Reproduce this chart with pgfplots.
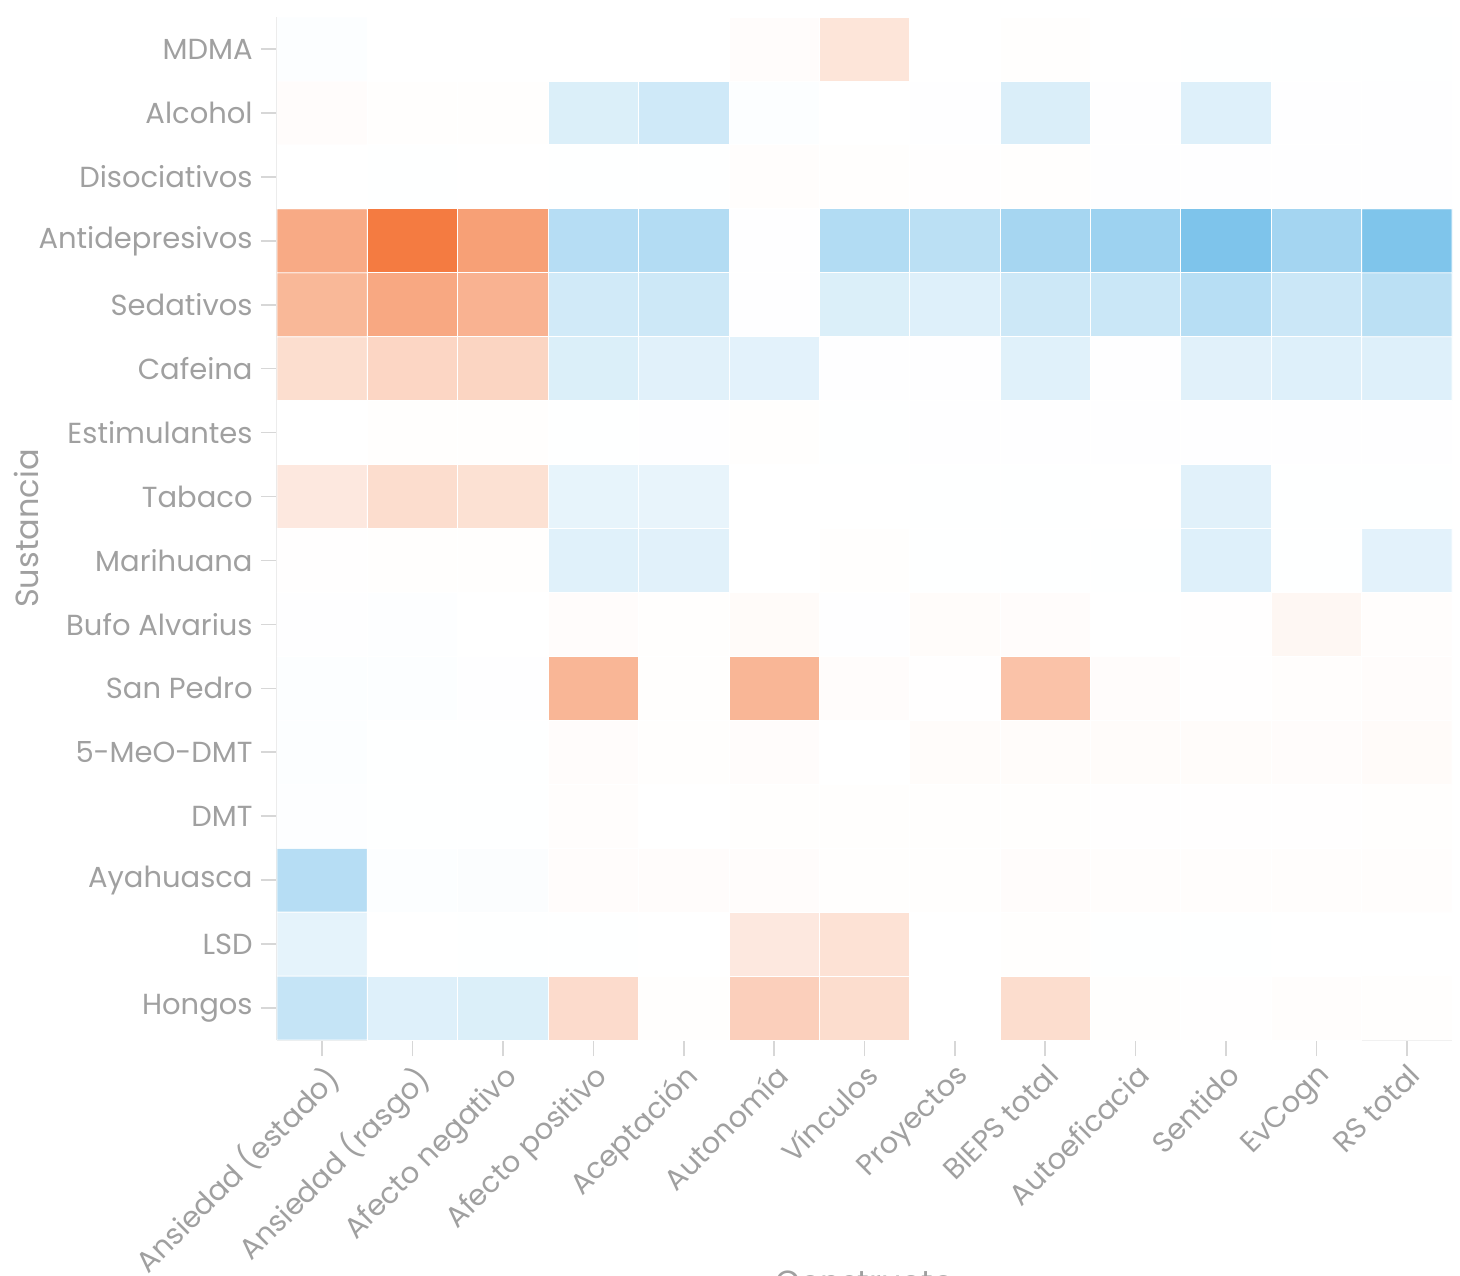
\documentclass[border=0pt]{standalone}
\usepackage{pgfplots}
\pgfplotsset{compat=1.18}
\usepackage{fontspec}
\setmainfont{Poppins}
\definecolor{txt}{RGB}{160,160,160}
\definecolor{axl}{RGB}{232,232,232}
\definecolor{tck}{RGB}{215,215,215}
\begin{document}
\begin{tikzpicture}
\begin{axis}[
  at={(0,0)}, anchor=south west,
  scale only axis, width=587.5pt, height=511.5pt,
  xmin=-0.5, xmax=12.5, ymin=-0.5, ymax=15.5,
  axis lines*=left,
  axis line style={axl, line width=0.9pt},
  tick align=outside,
  major tick length=8pt,
  tick style={tck, line width=0.8pt},
  xtick={0,...,12}, ytick={0,...,15},
  xticklabels={Ansiedad (estado),Ansiedad (rasgo),Afecto negativo,Afecto positivo,Aceptación,Autonomía,Vínculos,Proyectos,BIEPS total,Autoeficacia,Sentido,EvCogn,RS total},
  yticklabels={Hongos,LSD,Ayahuasca,DMT,5-MeO-DMT,San Pedro,Bufo Alvarius,Marihuana,Tabaco,Estimulantes,Cafeina,Sedativos,Antidepresivos,Disociativos,Alcohol,MDMA},
  ticklabel style={font=\fontsize{14.5pt}{16pt}\selectfont, text=txt},
  xticklabel style={rotate=45, anchor=north east, inner sep=2pt},
  yticklabel style={inner sep=4pt},
  xlabel={Constructo}, ylabel={Sustancia},
  label style={font=\fontsize{16pt}{18pt}\selectfont, text=txt},
  ylabel style={at={(axis description cs:-0.213,0.5)}, anchor=center},
  xlabel style={at={(axis description cs:0.5,0)}, anchor=north, yshift=-112pt},
  colormap={div}{rgb255=(244,123,65) rgb255=(255,255,255) rgb255=(126,196,235)},
  point meta min=-1, point meta max=1,
]
\addplot[matrix plot*, mesh/cols=13, mesh/rows=16, point meta=explicit, draw=white, line width=0.4pt]
table[meta=c] {
x y c
0 0 0.45
1 0 0.26
2 0 0.28
3 0 -0.27
4 0 -0.01
5 0 -0.36
6 0 -0.26
7 0 0
8 0 -0.26
9 0 -0.01
10 0 -0.005
11 0 -0.015
12 0 -0.01
0 1 0.2
1 1 0
2 1 0.005
3 1 0.005
4 1 0
5 1 -0.17
6 1 -0.22
7 1 0
8 1 -0.01
9 1 0.005
10 1 0.005
11 1 0
12 1 0
0 2 0.57
1 2 0.02
2 2 0.03
3 2 -0.02
4 2 -0.02
5 2 -0.02
6 2 -0.01
7 2 -0.01
8 2 -0.02
9 2 -0.015
10 2 -0.015
11 2 -0.015
12 2 -0.015
0 3 0.015
1 3 0.005
2 3 0.005
3 3 -0.015
4 3 0
5 3 -0.01
6 3 -0.01
7 3 -0.01
8 3 -0.01
9 3 -0.005
10 3 -0.005
11 3 -0.005
12 3 -0.01
0 4 0.02
1 4 0.005
2 4 0.005
3 4 -0.02
4 4 -0.01
5 4 -0.02
6 4 0
7 4 -0.025
8 4 -0.025
9 4 -0.025
10 4 -0.025
11 4 -0.02
12 4 -0.03
0 5 0.025
1 5 0.02
2 5 0.01
3 5 -0.55
4 5 -0.01
5 5 -0.55
6 5 -0.02
7 5 -0.005
8 5 -0.46
9 5 -0.02
10 5 -0.005
11 5 -0.015
12 5 -0.02
0 6 0.01
1 6 0.015
2 6 0
3 6 -0.02
4 6 -0.01
5 6 -0.03
6 6 0.01
7 6 -0.025
8 6 -0.02
9 6 0
10 6 -0.005
11 6 -0.06
12 6 -0.015
0 7 -0.005
1 7 -0.01
2 7 -0.01
3 7 0.24
4 7 0.23
5 7 0
6 7 -0.01
7 7 0.005
8 7 0.005
9 7 0.005
10 7 0.26
11 7 0.005
12 7 0.22
0 8 -0.17
1 8 -0.26
2 8 -0.23
3 8 0.19
4 8 0.18
5 8 0
6 8 0
7 8 0.005
8 8 0.005
9 8 0
10 8 0.23
11 8 0.005
12 8 0.005
0 9 0
1 9 -0.01
2 9 -0.01
3 9 0.005
4 9 0.01
5 9 -0.01
6 9 0.005
7 9 0.01
8 9 0.01
9 9 0.01
10 9 0.01
11 9 0.01
12 9 0.01
0 10 -0.25
1 10 -0.31
2 10 -0.32
3 10 0.28
4 10 0.23
5 10 0.22
6 10 0.01
7 10 0.01
8 10 0.24
9 10 0.01
10 10 0.23
11 10 0.26
12 10 0.26
0 11 -0.54
1 11 -0.66
2 11 -0.58
3 11 0.36
4 11 0.39
5 11 0.01
6 11 0.28
7 11 0.26
8 11 0.39
9 11 0.41
10 11 0.56
11 11 0.4
12 11 0.53
0 12 -0.64
1 12 -1
2 12 -0.72
3 12 0.57
4 12 0.59
5 12 0.01
6 12 0.6
7 12 0.53
8 12 0.69
9 12 0.76
10 12 1.0
11 12 0.71
12 12 0.99
0 13 0
1 13 0.005
2 13 0
3 13 0.005
4 13 0.005
5 13 -0.015
6 13 -0.01
7 13 -0.005
8 13 -0.01
9 13 0.01
10 13 0.01
11 13 0.01
12 13 0.01
0 14 -0.02
1 14 -0.01
2 14 -0.01
3 14 0.28
4 14 0.37
5 14 0.02
6 14 0
7 14 0.01
8 14 0.29
9 14 0.01
10 14 0.26
11 14 0.01
12 14 0.01
0 15 0.02
1 15 0
2 15 0
3 15 0
4 15 0
5 15 -0.02
6 15 -0.2
7 15 0
8 15 -0.01
9 15 0
10 15 0.005
11 15 0.005
12 15 0.005
};
\end{axis}
\pgfresetboundingbox
\path[use as bounding box] (-138.5pt,-117.5pt) rectangle (591.5pt,520pt);
\end{tikzpicture}
\end{document}
